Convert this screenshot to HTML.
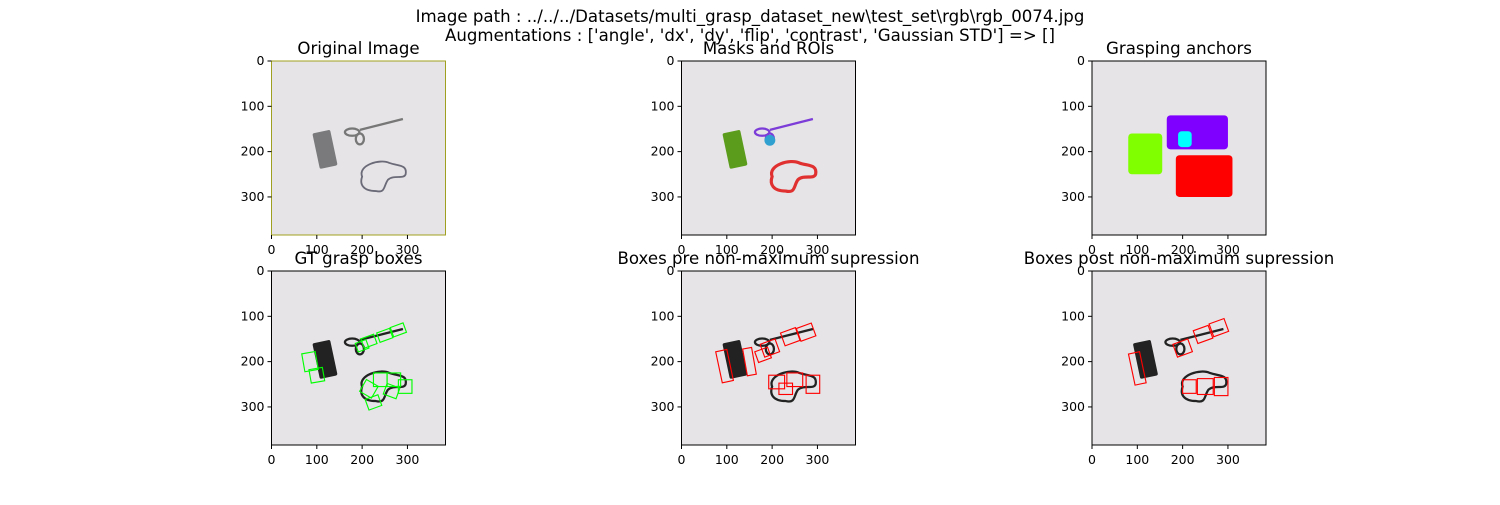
<!DOCTYPE html>
<html><head><meta charset="utf-8"><style>
body{margin:0;background:#fff;width:1500px;height:500px;overflow:hidden;font-family:"Liberation Sans","DejaVu Sans",sans-serif}
svg text{font-family:"DejaVu Sans","Liberation Sans",sans-serif}
</style></head><body>
<svg id="fig" width="1500" height="500" viewBox="0 0 1500 500" xmlns="http://www.w3.org/2000/svg">
<text x="750" y="22" font-size="16.6" text-anchor="middle">Image path : ../../../Datasets/multi_grasp_dataset_new\test_set\rgb\rgb_0074.jpg</text>
<text x="750" y="41" font-size="16.6" text-anchor="middle">Augmentations : ['angle', 'dx', 'dy', 'flip', 'contrast', 'Gaussian STD'] =&gt; []</text>
</svg>
<script>
const ticks=[0,100,200,300];
const imgSize=384;
const titles=["Original Image","Masks and ROIs","Grasping anchors","GT grasp boxes","Boxes pre non-maximum supression","Boxes post non-maximum supression"];
const colX=[271.5,681.5,1092];
const rowY=[61,271];
const S=174/imgSize;
const NS="http://www.w3.org/2000/svg";
const fig=document.getElementById('fig');
function mk(t,a,p){const e=document.createElementNS(NS,t);for(const k in a)e.setAttribute(k,a[k]);(p||fig).appendChild(e);return e;}
const cable="M200,255 C190,230 240,215 260,225 C280,232 300,228 296,250 C292,262 270,250 257,262 C247,276 252,292 230,287 C202,287 194,272 200,255 Z";
function objects(g,style){
  const er=mk('rect',{x:98,y:155,width:40,height:80,rx:4,transform:'rotate(-12 118 195)',fill:style.er},g);
  
  const c=mk('path',{d:cable,fill:'none',stroke:style.ca,'stroke-width':style.cw||5},g);
  
  const s1=mk('path',{d:'M195,152 L290,128',stroke:style.sc,'stroke-width':5,fill:'none'},g);
  
  const s2=mk('ellipse',{cx:178,cy:157,rx:16,ry:8,fill:'none',stroke:style.sc,'stroke-width':5},g);
  
  const s3=mk('ellipse',{cx:195,cy:172,rx:9,ry:12,fill:'none',stroke:style.sc,'stroke-width':5},g);
  
}
function boxes(g,col,list){list.forEach(b=>{const r=mk('rect',{x:b[0]-b[2]/2,y:b[1]-b[3]/2,width:b[2],height:b[3],fill:'none',stroke:col,'stroke-width':2.5,transform:`rotate(${b[4]} ${b[0]} ${b[1]})`},g);
});}
const gtBoxes=[[215,155,30,22,-20],[250,142,30,22,-20],[280,130,30,22,-20],[85,200,30,40,-10],[100,230,30,30,-10],[215,260,30,30,30],[240,240,30,30,0],[270,240,30,30,0],[295,255,30,30,0],[225,290,30,25,-20],[200,165,25,20,-20],[265,265,30,25,20]];
const preBoxes=[[95,210,25,70,-12],[150,200,20,60,-10],[195,170,35,30,-20],[240,145,35,30,-20],[275,135,35,30,-20],[210,245,35,30,0],[250,240,35,30,0],[290,250,30,40,0],[180,185,30,25,-20],[230,260,30,25,0]];
const postBoxes=[[100,215,25,70,-12],[200,170,35,30,-20],[245,140,35,30,-20],[280,125,35,30,-20],[215,255,30,30,0],[250,255,35,35,0],[285,255,30,40,0]];
titles.forEach((t,i)=>{
  const x0=colX[i%3],y0=rowY[Math.floor(i/3)];
  const ax=mk('g',{});
  
  
  const tt=mk('text',{x:x0+87,y:y0-7,'font-size':16.6,'text-anchor':'middle'},ax);tt.textContent=t;
  
  
  const g=mk('g',{transform:`translate(${x0},${y0}) scale(${S})`},ax);
  const bg=mk('rect',{x:0,y:0,width:imgSize,height:imgSize,fill:'#e6e4e6'},g);
  
  
  if(i===0)objects(g,{er:'#7a7a7c',ca:'#6a6a78',sc:'#777',cw:4});
  else if(i===1){objects(g,{er:'#5c9c1c',ca:'#e03030',sc:'#7c3cd8',cw:7});mk('circle',{cx:195,cy:175,r:12,fill:'#30a0d0'},g);}
  else if(i===2){
    [[80,160,75,90,'#80ff00'],[165,120,135,75,'#8000ff'],[185,208,125,92,'#ff0000'],[190,155,30,35,'#00ffff']].forEach(r=>{
      const e=mk('rect',{x:r[0],y:r[1],width:r[2],height:r[3],rx:8,fill:r[4]},g);
      
      });
  } else {
    objects(g,{er:'#222',ca:'#222',sc:'#222',cw:5});
    if(i===3)boxes(g,'#00ff00',gtBoxes);
    if(i===4)boxes(g,'#ff0000',preBoxes);
    if(i===5)boxes(g,'#ff0000',postBoxes);
  }
  mk('rect',{x:x0,y:y0,width:174,height:174,fill:'none',stroke:i===0?'#a0a020':'#000','stroke-width':1},ax);
  ticks.forEach(v=>{
    const px=x0+v*S,py=y0+v*S;
    mk('line',{x1:px,y1:y0+174,x2:px,y2:y0+178,stroke:'#000'},ax);
    const tx=mk('text',{x:px,y:y0+193,'font-size':12.5,'text-anchor':'middle'},ax);tx.textContent=v;
    
    
    mk('line',{x1:x0-4,y1:py,x2:x0,y2:py,stroke:'#000'},ax);
    const ty=mk('text',{x:x0-7,y:py+4,'font-size':12.5,'text-anchor':'end'},ax);ty.textContent=v;
    
    
  });
});
</script>
</body></html>
